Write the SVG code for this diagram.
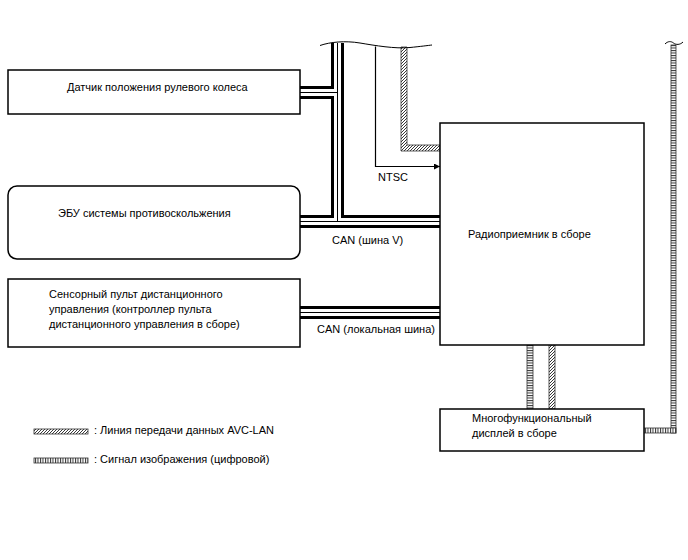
<svg xmlns="http://www.w3.org/2000/svg" width="688" height="560" viewBox="0 0 688 560">
<defs>
<style>
.box{fill:#fff;stroke:#000;stroke-width:1.5}
.t{font-family:"Liberation Sans",Arial,sans-serif;font-size:11px;fill:#000}
.busB{fill:none;stroke:#000;stroke-width:13}
.busW{fill:none;stroke:#fff;stroke-width:7}
.busT{fill:none;stroke:#000;stroke-width:1}
.wire{fill:none;stroke:#000;stroke-width:1.2}
.avc{fill:url(#hatch);stroke:#333;stroke-width:0.8}
.vidH{fill:url(#ladderH);stroke:#333;stroke-width:0.8}
.vidV{fill:url(#ladderV);stroke:#333;stroke-width:0.8}
</style>
<pattern id="hatch" patternUnits="userSpaceOnUse" width="3" height="3">
<rect width="3" height="3" fill="#fff"/>
<path d="M-1,1 L1,-1 M0,3 L3,0 M2,4 L4,2" stroke="#222" stroke-width="0.9"/>
</pattern>
<pattern id="ladderH" patternUnits="userSpaceOnUse" width="2.5" height="10">
<rect width="2.5" height="10" fill="#fff"/>
<rect x="0" y="0" width="1" height="10" fill="#333"/>
</pattern>
<pattern id="ladderV" patternUnits="userSpaceOnUse" width="10" height="2.5">
<rect width="10" height="2.5" fill="#fff"/>
<rect x="0" y="0" width="10" height="1" fill="#333"/>
</pattern>
<marker id="arr" viewBox="0 0 10 10" refX="10" refY="5" markerWidth="9" markerHeight="6" markerUnits="userSpaceOnUse" orient="auto">
<path d="M0,0 L10,5 L0,10 z" fill="#000"/>
</marker>
</defs>
<rect width="688" height="560" fill="#fff"/>

<g id="connectors">
<!-- CAN bus outer lines -->
<path class="busB" d="M337.5,43 V221.5"/>
<path class="busB" d="M300,221.5 H440"/>
<path class="busB" d="M300,92.5 H337.5"/>
<path class="busB" d="M300,312.5 H440"/>
<path class="busW" d="M337.5,43 V221.5"/>
<path class="busW" d="M300,221.5 H440"/>
<path class="busW" d="M300,92.5 H337.5"/>
<path class="busW" d="M300,312.5 H440"/>
<path class="busT" d="M337.5,43 V221.5"/>
<path class="busT" d="M300,221.5 H440"/>
<path class="busT" d="M300,92.5 H337.5"/>
<path class="busT" d="M300,312.5 H440"/>
<!-- NTSC -->
<path class="wire" d="M375.5,46.5 V166.5 H440" marker-end="url(#arr)"/>
<!-- AVC-LAN from top -->
<path class="avc" d="M401,47 H407 V145 H440 V151 H401 Z"/>
<!-- break line -->
<path fill="none" stroke="#000" stroke-width="1" d="M320,45.5 C330,42 345,40.5 360,43 C375,45.5 395,49 410,47.5 C420,46.5 428,45.5 432,45"/>
<!-- radio to display -->
<rect class="vidV" x="527" y="345" width="6" height="64"/>
<rect class="avc" x="549" y="345" width="6" height="64"/>
<!-- video from top right -->
<rect class="vidV" x="671" y="45" width="5" height="388"/>
<rect class="vidH" x="644" y="428" width="32" height="5"/>
<path fill="none" stroke="#000" stroke-width="1" d="M665,44 C668,41 671,41 673.5,43 C676,45 680,45 683,42"/>
</g>

<g id="node-sensor">
<rect class="box" x="8" y="70" width="292" height="44"/>
<text class="t" x="67" y="91">Датчик положения рулевого колеса</text>
</g>

<g id="node-ecu">
<rect class="box" x="8" y="186" width="292" height="73" rx="9" ry="9"/>
<text class="t" x="58" y="217">ЭБУ системы противоскольжения</text>
</g>

<g id="node-remote">
<rect class="box" x="8" y="279" width="292" height="68"/>
<text class="t" x="49" y="298">Сенсорный пульт дистанционного</text>
<text class="t" x="49" y="313">управления (контроллер пульта</text>
<text class="t" x="49" y="328">дистанционного управления в сборе)</text>
</g>

<g id="node-radio">
<rect class="box" x="440" y="123" width="204" height="222"/>
<text class="t" x="468" y="238">Радиоприемник в сборе</text>
</g>

<g id="node-display">
<rect class="box" x="440" y="409" width="204" height="42"/>
<text class="t" x="472" y="422">Многофункциональный</text>
<text class="t" x="472" y="437">дисплей в сборе</text>
</g>

<g id="labels">
<text class="t" x="378" y="181">NTSC</text>
<text class="t" x="332" y="244">CAN (шина V)</text>
<text class="t" x="317" y="333">CAN (локальная шина)</text>
</g>

<g id="legend">
<rect class="avc" x="34" y="429" width="54" height="5"/>
<text class="t" x="94" y="434">: Линия передачи данных AVC-LAN</text>
<rect class="vidH" x="34" y="458" width="54" height="5"/>
<text class="t" x="94" y="463">: Сигнал изображения (цифровой)</text>
</g>
</svg>
